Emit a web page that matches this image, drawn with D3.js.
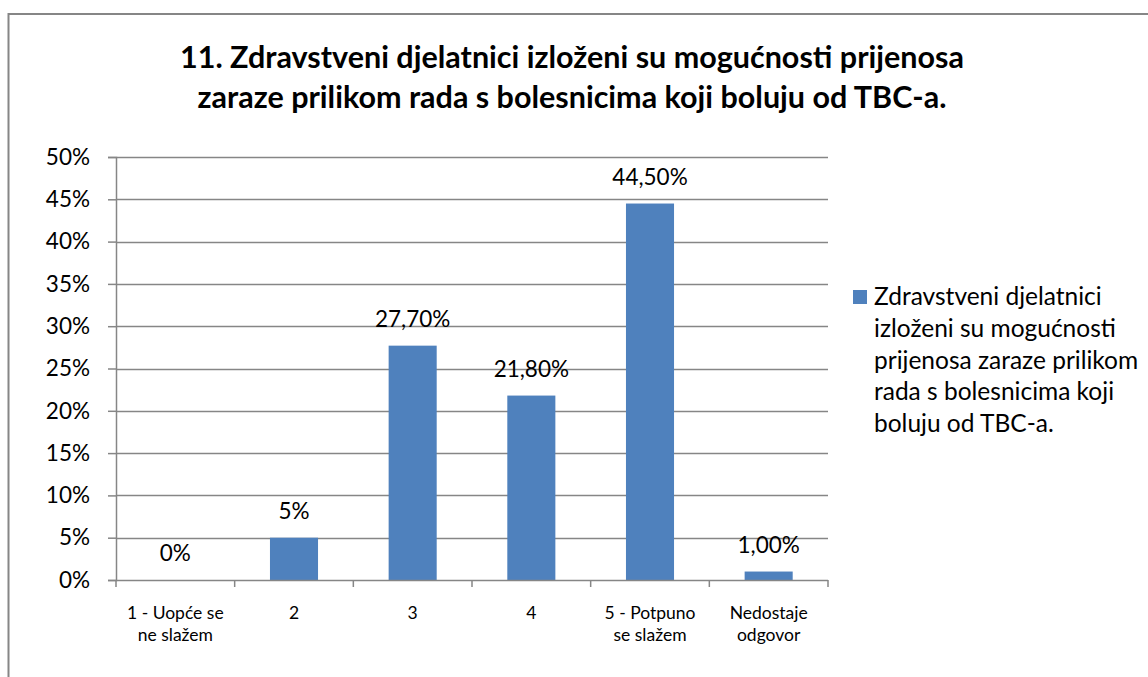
<!DOCTYPE html>
<html>
<head>
<meta charset="utf-8">
<script src="https://cdn.jsdelivr.net/npm/d3@7"></script>
<style>
  body { margin: 0; background: #fff; }
  text { font-family: Lato, "Open Sans", sans-serif; fill: #000; }
</style>
</head>
<body>
<div id="chart"></div>
<script>
// Data
var categories = ["1 - Uopće se|ne slažem", "2", "3", "4", "5 - Potpuno|se slažem", "Nedostaje|odgovor"];
var values = [0, 0.05, 0.277, 0.218, 0.445, 0.01];
var valueLabels = ["0%", "5%", "27,70%", "21,80%", "44,50%", "1,00%"];
var yTicks = [0, 0.05, 0.10, 0.15, 0.20, 0.25, 0.30, 0.35, 0.40, 0.45, 0.50];
var titleLines = ["11. Zdravstveni djelatnici izloženi su mogućnosti prijenosa",
                  "zaraze prilikom rada s bolesnicima koji boluju od TBC-a."];
var legendLines = ["Zdravstveni djelatnici", "izloženi su mogućnosti", "prijenosa zaraze prilikom",
                   "rada s bolesnicima koji", "boluju od TBC-a."];

var width = 1148, height = 677;
var barColor = "#4f81bd", gridColor = "#868686";

var svg = d3.select("#chart").append("svg")
    .attr("width", width)
    .attr("height", height);

// Outer border (chart area extends past the window)
svg.append("rect")
    .attr("x", 8.5).attr("y", 14)
    .attr("width", 1200).attr("height", 700)
    .attr("fill", "#fff")
    .attr("stroke", gridColor)
    .attr("stroke-width", 2);

// Title
svg.append("g").selectAll("text")
    .data(titleLines)
    .enter()
    .append("text")
        .attr("x", 572)
        .attr("y", (d, i) => 68 + i * 40)
        .attr("text-anchor", "middle")
        .style("font-size", "30.5px")
        .style("font-weight", "bold")
        .text(d => d);

// Scales
var plot = { left: 116, right: 828, top: 157, bottom: 580 };

var x = d3.scaleBand()
    .domain(categories)
    .range([plot.left, plot.right])
    .paddingInner(0.595)
    .paddingOuter(0.2975);

var xOuter = d3.scaleBand()
    .domain(categories)
    .range([plot.left, plot.right]);

var y = d3.scaleLinear()
    .domain([0, 0.5])
    .range([plot.bottom, plot.top]);

// Gridlines
svg.append("g").selectAll("line")
    .data(yTicks.slice(1))
    .enter()
    .append("line")
        .attr("x1", plot.left).attr("x2", plot.right)
        .attr("y1", d => Math.round(y(d)) + 0.5)
        .attr("y2", d => Math.round(y(d)) + 0.5)
        .attr("stroke", gridColor)
        .attr("stroke-width", 1.5);

// Y axis
var yAxis = svg.append("g")
    .attr("transform", "translate(" + plot.left + ",0)")
    .call(d3.axisLeft(y).tickValues(yTicks).tickSize(8).tickPadding(18)
        .tickFormat(d => Math.round(d * 100) + "%"));
yAxis.select(".domain").attr("stroke", gridColor).attr("stroke-width", 1.5);
yAxis.selectAll(".tick line").attr("stroke", gridColor).attr("stroke-width", 1.5);
yAxis.selectAll(".tick text").style("font-size", "22.5px").attr("fill", "#000");

// Bars
svg.append("g").selectAll("rect")
    .data(values)
    .enter()
    .append("rect")
        .attr("x", (d, i) => x(categories[i]))
        .attr("y", d => y(d))
        .attr("width", x.bandwidth())
        .attr("height", d => plot.bottom - y(d))
        .attr("fill", barColor);

// X axis
var xAxis = svg.append("g")
    .attr("transform", "translate(0," + plot.bottom + ")");
xAxis.append("line")
    .attr("x1", plot.left).attr("x2", plot.right)
    .attr("y1", 0.5).attr("y2", 0.5)
    .attr("stroke", gridColor).attr("stroke-width", 1.5);
xAxis.selectAll("line.tick")
    .data(categories.concat([null]))
    .enter()
    .append("line")
        .attr("class", "tick")
        .attr("x1", (d, i) => plot.left + i * xOuter.step())
        .attr("x2", (d, i) => plot.left + i * xOuter.step())
        .attr("y1", 0).attr("y2", 7)
        .attr("stroke", gridColor).attr("stroke-width", 1.5);

// Category labels
var catLabel = svg.append("g").selectAll("text")
    .data(categories)
    .enter()
    .append("text")
        .attr("x", d => xOuter(d) + xOuter.bandwidth() / 2)
        .attr("y", 619)
        .attr("text-anchor", "middle")
        .style("font-size", "17.5px");
catLabel.selectAll("tspan")
    .data(d => d.split("|"))
    .enter()
    .append("tspan")
        .attr("x", function() { return d3.select(this.parentNode).attr("x"); })
        .attr("dy", (d, i) => i === 0 ? 0 : 22)
        .text(d => d);

// Value labels
svg.append("g").selectAll("text")
    .data(values)
    .enter()
    .append("text")
        .attr("x", (d, i) => xOuter(categories[i]) + xOuter.bandwidth() / 2)
        .attr("y", d => y(d) - 19)
        .attr("text-anchor", "middle")
        .style("font-size", "22.5px")
        .text((d, i) => valueLabels[i]);

// Legend
var legend = svg.append("g");
legend.append("rect")
    .attr("x", 853).attr("y", 290)
    .attr("width", 14).attr("height", 14)
    .attr("fill", barColor);
legend.selectAll("text")
    .data(legendLines)
    .enter()
    .append("text")
        .attr("x", 874)
        .attr("y", (d, i) => 305 + i * 31.8)
        .style("font-size", "24.5px")
        .text(d => d);
</script>
</body>
</html>
